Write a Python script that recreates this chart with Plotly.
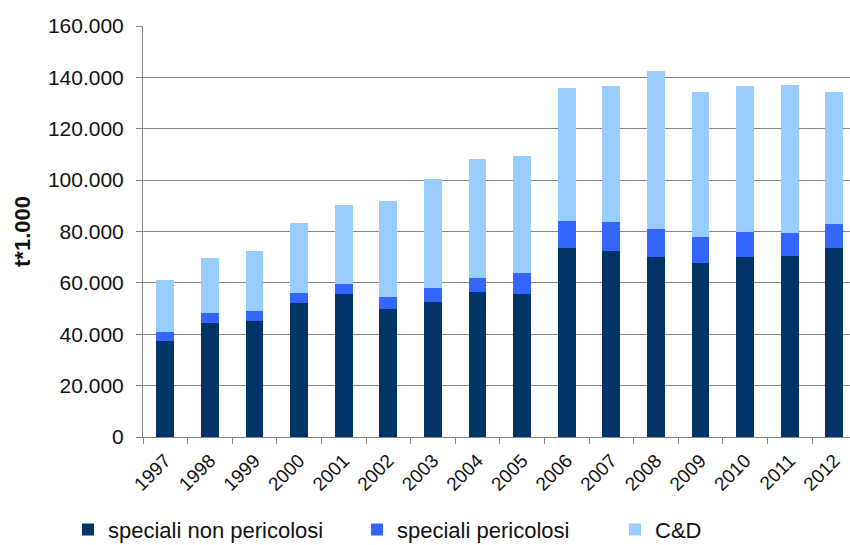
import plotly.graph_objects as go

years = ["1997", "1998", "1999", "2000", "2001", "2002", "2003", "2004",
         "2005", "2006", "2007", "2008", "2009", "2010", "2011", "2012"]

# tonnes x 1.000 per category
speciali_non_pericolosi = [37400, 44300, 45100, 52100, 55600, 49700, 52500, 56500,
                           55600, 73700, 72500, 70000, 67600, 70200, 70500, 73400]
speciali_pericolosi = [3350, 3800, 3900, 3800, 3900, 4800, 5600, 5500,
                       8100, 10200, 11100, 11000, 10300, 9700, 8800, 9600]
c_e_d = [20350, 21400, 23500, 27500, 30900, 37300, 42500, 46300,
         45700, 51900, 53100, 61600, 56400, 56900, 57900, 51200]

series = [
    ("speciali non pericolosi", speciali_non_pericolosi, "#003366", "legend2"),
    ("speciali pericolosi", speciali_pericolosi, "#3366FF", "legend3"),
    ("C&D", c_e_d, "#99CCFF", "legend4"),
]

fig = go.Figure()
for name, vals, color, leg in series:
    fig.add_trace(go.Bar(x=years, y=vals, name=name, marker_color=color,
                         marker_line_width=0, legend=leg))

font_family = "Liberation Sans, Arial, sans-serif"
leg_common = dict(orientation="h", xanchor="left", yanchor="middle",
                  xref="container", yref="container", y=0.028,
                  font=dict(family=font_family, size=22, color="#111111"),
                  bgcolor="rgba(0,0,0,0)", borderwidth=0)

fig.update_layout(
    width=850, height=545,
    margin=dict(l=143, r=0, t=26, b=108),
    paper_bgcolor="white", plot_bgcolor="white",
    barmode="stack", bargap=0.6,
    separators=",.",
    font=dict(family=font_family, color="#111111"),
    legend2=dict(x=68 / 850, **leg_common),
    legend3=dict(x=357 / 850, **leg_common),
    legend4=dict(x=615 / 850, **leg_common),
    xaxis=dict(
        type="category", range=[-0.5, 15.35],
        showline=True, linecolor="#858585", linewidth=1,
        ticks="outside", tickson="boundaries", ticklen=6, tickcolor="#858585",
        tickangle=-45, tickfont=dict(size=19, color="#111111"),
        ticklabelstandoff=4,
        showgrid=False,
    ),
    yaxis=dict(
        range=[0, 160000], dtick=20000, tickformat=",d",
        showline=True, linecolor="#858585", linewidth=1,
        ticks="outside", ticklen=6, tickcolor="#858585",
        ticklabelstandoff=8,
        showgrid=True, gridcolor="#858585", gridwidth=1,
        zeroline=False,
        tickfont=dict(size=21, color="#111111"),
        title=dict(text="<b>t*1.000</b>", font=dict(size=22, color="#111111"),
                   standoff=11),
    ),
)

fig.write_html("out.html")
